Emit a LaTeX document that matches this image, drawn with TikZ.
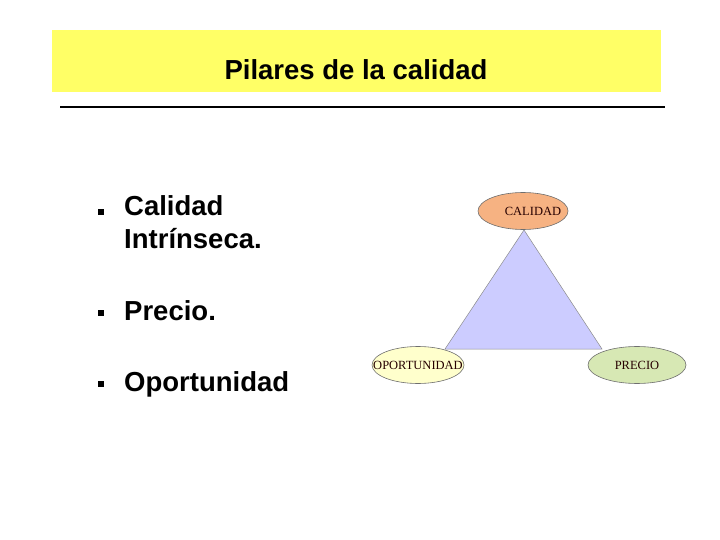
\documentclass[tikz,border=0pt]{standalone}
\usepackage{fontspec}
\setmainfont{Liberation Serif}
\setsansfont{Liberation Sans}
\usepackage{xcolor}
\usetikzlibrary{shapes.geometric}
\definecolor{BannerYellow}{HTML}{FFFF66}
\definecolor{TriBlue}{HTML}{CCCCFF}
\definecolor{EllOrange}{HTML}{F6B282}
\definecolor{EllYellow}{HTML}{FFFFCC}
\definecolor{EllGreen}{HTML}{D7E8B4}
\definecolor{EdgeGray}{HTML}{6E6E6E}

\begin{document}
\begin{tikzpicture}[x=1pt,y=-1pt,
  TT/.style={font=\sffamily\bfseries\fontsize{27.5}{30}\selectfont, inner sep=0pt},
  BT/.style={font=\sffamily\bfseries\fontsize{27.5}{33}\selectfont, inner sep=0pt,
             anchor=base west},
  BL/.style={fill=black, minimum size=6.5pt, inner sep=0pt},
  EL/.style={ellipse, draw=EdgeGray, line width=0.6pt, inner sep=0pt,
             minimum height=37pt,
             label={[font=\fontsize{12.5}{14}\selectfont, text=black!85!red,
                     inner sep=0pt]center:#1}},
]
  \useasboundingbox (0,0) rectangle (720,540);

  % Title band
  \fill[BannerYellow] (52,30) rectangle (661,92);
  \node[TT, anchor=base] (title) at (356,80) {Pilares de la calidad};
  \coordinate (ruleL) at (60,107);
  \coordinate (ruleR) at (665,107);
  \draw[line width=2pt] (ruleL) -- (ruleR);

  % Bullet list
  \node[BL] (b1) at (101,212) {};
  \node[BL] (b2) at (101,313) {};
  \node[BL] (b3) at (101,384) {};
  \node[BT] (t1) at (124,215) {Calidad};
  \node[BT] (t1b) at (124,248) {Intrínseca.};
  \node[BT] (t2) at (124,320) {Precio.};
  \node[BT] (t3) at (124,391) {Oportunidad};

  % Triangle
  \coordinate (apex) at (524,230);
  \coordinate (left) at (445,349);
  \coordinate (right) at (602,349);
  \filldraw[fill=TriBlue, draw=EdgeGray!80, line width=0.5pt]
    (apex) -- (left) -- (right) -- cycle;

  % Ellipses
  \node[EL={\hspace*{20pt}CALIDAD}, fill=EllOrange, minimum width=90pt]
    (cal) at (523,211) {};
  \node[EL=OPORTUNIDAD, fill=EllYellow, minimum width=92pt]
    (opo) at (418,365) {};
  \node[EL=PRECIO, fill=EllGreen, minimum width=98pt]
    (pre) at (637,365) {};

\end{tikzpicture}
\end{document}
